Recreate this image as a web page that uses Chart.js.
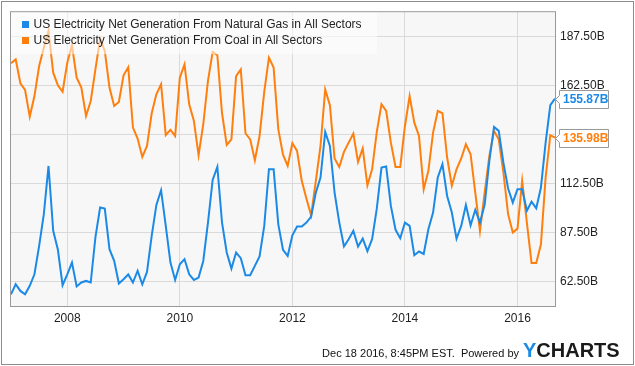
<!DOCTYPE html>
<html>
<head>
<meta charset="utf-8">
<script src="https://cdn.jsdelivr.net/npm/chart.js@4"></script>
<style>
  html, body { margin: 0; padding: 0; background: #fff; }
  canvas { display: block; }
</style>
</head>
<body>
<canvas id="genChart" width="635" height="366"></canvas>
<script>
// monthly values, first point sits on Jan 2007, one point per month
const startYear = 2007;
const yearTicks = [2008, 2010, 2012, 2014, 2016];
const valueTicks = [62.5, 87.5, 112.5, 137.5, 162.5, 187.5];

const gasLabel = 'US Electricity Net Generation From Natural Gas in All Sectors';
const coalLabel = 'US Electricity Net Generation From Coal in All Sectors';

// billions of kWh
const gas = [
  56.0, 61.1, 57.7, 56.0, 60.3, 66.2, 80.7, 96.9, 121.5, 88.4, 78.7, 60.6,
  66.2, 72.2, 60.0, 62.0, 62.8, 62.0, 85.0, 100.3, 99.7, 79.0, 73.1, 61.5,
  63.7, 66.1, 62.0, 68.0, 61.1, 67.4, 85.8, 101.6, 109.1, 90.9, 72.2, 63.3,
  71.3, 73.9, 66.2, 63.3, 64.5, 73.0, 92.6, 114.4, 121.0, 92.6, 77.3, 69.1,
  77.3, 74.4, 65.7, 65.7, 70.5, 75.3, 90.9, 119.8, 119.8, 91.7, 78.7, 75.6,
  86.1, 90.6, 90.6, 92.6, 95.7, 107.9, 115.6, 138.9, 131.7, 107.9, 92.6, 80.4,
  84.1, 88.4, 80.4, 84.4, 78.0, 84.1, 99.7, 120.7, 121.2, 101.1, 88.9, 84.6,
  92.6, 90.9, 75.9, 77.8, 76.6, 89.2, 97.7, 115.6, 122.4, 106.2, 97.7, 84.4,
  90.9, 101.6, 91.2, 99.1, 92.6, 101.6, 124.1, 141.4, 139.4, 123.2, 110.0, 102.8,
  109.6, 109.6, 98.6, 103.3, 99.9, 110.5, 133.4, 152.5, 155.87
];
const coal = [
  173.9, 175.9, 163.7, 160.3, 146.7, 157.2, 172.5, 181.9, 190.4, 169.1, 162.7, 159.4,
  174.2, 183.1, 166.6, 161.5, 147.0, 154.7, 170.8, 186.5, 180.2, 161.5, 152.1, 154.2,
  167.8, 171.9, 141.1, 135.5, 126.1, 131.7, 148.4, 158.1, 163.2, 137.2, 139.9, 136.8,
  166.6, 173.4, 153.0, 144.5, 127.0, 142.8, 164.9, 179.7, 178.0, 148.4, 132.2, 135.1,
  167.4, 170.8, 138.2, 135.1, 124.4, 136.8, 159.3, 176.8, 171.7, 140.2, 127.3, 121.5,
  133.1, 129.2, 113.9, 104.8, 96.3, 113.9, 131.7, 160.6, 152.5, 125.3, 121.0, 128.7,
  133.4, 138.0, 123.6, 130.5, 111.6, 119.8, 138.9, 153.0, 149.6, 133.4, 121.0, 121.0,
  141.9, 157.2, 143.6, 136.8, 109.6, 119.0, 138.5, 149.6, 148.4, 125.8, 111.4, 119.8,
  125.3, 132.6, 127.5, 107.9, 88.3, 107.9, 126.6, 139.4, 135.1, 118.1, 96.9, 87.5,
  89.5, 113.9, 92.6, 71.9, 71.9, 81.5, 115.6, 137.2, 135.98
];

const gasColor = '#1b8ae6';
const coalColor = '#ff7f0e';
const font = 'Arial, "Liberation Sans", sans-serif';

const toPoints = arr => arr.map((v, i) => ({ x: startYear + i / 12, y: v }));

const decor = {
  id: 'decor',
  beforeDraw(chart) {
    const c = chart.ctx;
    const a = chart.chartArea;
    c.save();
    c.fillStyle = '#fff';
    c.fillRect(0, 0, chart.width, chart.height);
    c.fillStyle = '#f7f7f7';
    c.fillRect(a.left, a.top, a.right - a.left, a.bottom - a.top);
    c.restore();
  },
  afterDatasetsDraw(chart) {
    const c = chart.ctx;
    const a = chart.chartArea;
    c.save();
    // legend
    c.fillStyle = 'rgba(255,255,255,0.55)';
    c.fillRect(a.left, a.top, 366, 42);
    const rows = [[gasLabel, gasColor, 24.5], [coalLabel, coalColor, 40.5]];
    c.font = '12px ' + font;
    c.textBaseline = 'middle';
    rows.forEach(r => {
      c.fillStyle = r[1];
      c.fillRect(22, r[2] - 3.5, 7, 7);
      c.fillStyle = '#222';
      c.fillText(r[0], 33.5, r[2] + 0.5);
    });

    // plot frame and outer frame
    c.strokeStyle = '#999';
    c.lineWidth = 1;
    c.strokeRect(a.left - 0.5, a.top - 0.5, a.right - a.left + 1, a.bottom - a.top + 1);
    c.strokeStyle = '#8c8c8c';
    c.strokeRect(1.5, 1.5, chart.width - 3, chart.height - 3);

    // last value flags
    const ys = chart.scales.y;
    [[gas, gasColor], [coal, coalColor]].forEach(s => {
      const v = s[0][s[0].length - 1];
      const y = Math.round(ys.getPixelForValue(v)) + 0.5;
      const bx = 559.5, bw = 49, h = 9;
      c.beginPath();
      c.moveTo(a.right + 0.5, y);
      c.lineTo(bx, y - 4);
      c.lineTo(bx, y - h);
      c.lineTo(bx + bw, y - h);
      c.lineTo(bx + bw, y + h);
      c.lineTo(bx, y + h);
      c.lineTo(bx, y + 4);
      c.closePath();
      c.fillStyle = '#fff';
      c.fill();
      c.strokeStyle = '#999';
      c.stroke();
      c.fillStyle = s[1];
      c.font = 'bold 12px ' + font;
      c.textBaseline = 'middle';
      c.fillText(v.toFixed(2) + 'B', 563, y + 0.5);
    });

    // footer
    c.fillStyle = '#111';
    c.font = '11px ' + font;
    c.textBaseline = 'alphabetic';
    c.textAlign = 'right';
    c.fillText('Dec 18 2016, 8:45PM EST.  Powered by', 519, 357);
    c.textAlign = 'left';
    c.font = 'bold 20px ' + font;
    c.fillStyle = '#1b8ae6';
    c.fillText('Y', 523, 357);
    const yw = c.measureText('Y').width;
    c.fillStyle = '#1a1a1a';
    c.fillText('CHARTS', 523 + yw, 357);
    c.restore();
  }
};

new Chart(document.getElementById('genChart'), {
  type: 'line',
  data: {
    datasets: [
      {
        label: gasLabel,
        data: toPoints(gas),
        borderColor: gasColor,
        borderWidth: 2,
        pointRadius: 0,
        tension: 0,
        fill: false,
      },
      {
        label: coalLabel,
        data: toPoints(coal),
        borderColor: coalColor,
        borderWidth: 2,
        pointRadius: 0,
        tension: 0,
        fill: false,
      },
    ],
  },
  options: {
    responsive: false,
    animation: false,
    devicePixelRatio: 1,
    layout: { padding: { left: 11, top: 11, right: 0, bottom: 0 } },
    plugins: {
      legend: { display: false },
      tooltip: { enabled: false },
    },
    scales: {
      x: {
        type: 'linear',
        min: startYear,
        max: startYear + (gas.length - 1) / 12,
        afterBuildTicks: ax => { ax.ticks = yearTicks.map(v => ({ value: v })); },
        afterFit: ax => { ax.height = 60; },
        grid: { color: '#dadada', drawTicks: false },
        border: { display: false },
        ticks: {
          padding: 5,
          color: '#222',
          font: { size: 12, family: font },
          maxRotation: 0,
          autoSkip: false,
          callback: v => String(v),
        },
      },
      y: {
        position: 'right',
        min: 50,
        max: 200,
        afterBuildTicks: ax => { ax.ticks = valueTicks.map(v => ({ value: v })); },
        afterFit: ax => { ax.width = 80; },
        grid: { color: '#dadada', drawTicks: false },
        border: { display: false },
        ticks: {
          padding: 5,
          color: '#222',
          font: { size: 12, family: font },
          callback: v => v.toFixed(2) + 'B',
        },
      },
    },
  },
  plugins: [decor],
});
</script>
</body>
</html>
